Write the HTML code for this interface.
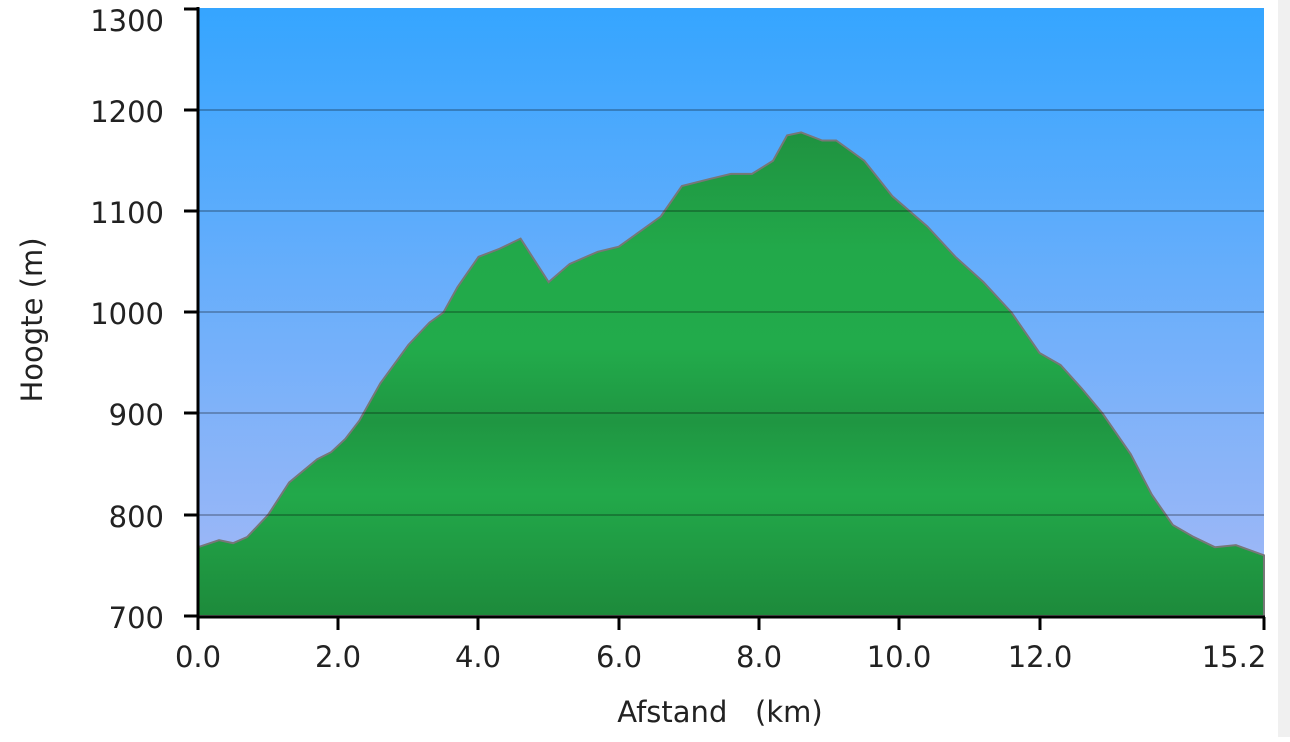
<!DOCTYPE html>
<html><head><style>body{margin:0;background:#fff;overflow:hidden}</style></head><body>
<svg width="1290" height="737" viewBox="0 0 1290 737" xmlns="http://www.w3.org/2000/svg" font-family="DejaVu Sans, Liberation Sans, sans-serif">
<defs>
<linearGradient id="sky" x1="0" y1="0" x2="0" y2="1"><stop offset="0" stop-color="#35a5ff"/><stop offset="1" stop-color="#a6b9f6"/></linearGradient>
<linearGradient id="gr" gradientUnits="userSpaceOnUse" x1="0" y1="1180" x2="0" y2="700">
<stop offset="0" stop-color="#1f9240"/><stop offset="0.25" stop-color="#22a94a"/><stop offset="0.45" stop-color="#22ab4b"/><stop offset="0.6" stop-color="#1f9642"/><stop offset="0.75" stop-color="#22a94a"/><stop offset="1" stop-color="#1d8a3b"/></linearGradient>
</defs>
<rect x="1278" y="0" width="12" height="737" fill="#f0f0f0"/>
<rect x="198" y="8" width="1066" height="608" fill="url(#sky)"/>
<g transform="translate(198,616) scale(70.13,-1.0117) translate(0,-700)">
<path fill="url(#gr)" stroke="#777" stroke-width="2" vector-effect="non-scaling-stroke" d="M0,700 L0,768 0.3,775 0.5,772 0.7,778 1.0,800 1.3,832 1.7,855 1.9,862 2.1,875 2.3,893 2.6,930 3.0,968 3.3,990 3.5,1000 3.7,1025 4.0,1055 4.3,1063 4.6,1073 5.0,1030 5.3,1048 5.7,1060 6.0,1065 6.3,1080 6.6,1095 6.9,1125 7.3,1132 7.6,1137 7.9,1137 8.2,1150 8.4,1175 8.6,1178 8.9,1170 9.1,1170 9.5,1150 9.9,1115 10.4,1085 10.8,1055 11.2,1030 11.6,1000 12.0,960 12.3,948 12.6,925 12.9,900 13.3,860 13.6,820 13.9,790 14.2,778 14.5,768 14.8,770 15.2,760 15.2,700 Z"/>
</g>
<g stroke="#000" stroke-opacity="0.25" stroke-width="2">
<line x1="198" y1="110" x2="1264" y2="110"/><line x1="198" y1="211" x2="1264" y2="211"/><line x1="198" y1="312" x2="1264" y2="312"/><line x1="198" y1="413" x2="1264" y2="413"/><line x1="198" y1="515" x2="1264" y2="515"/>
</g>
<g stroke="#000" stroke-width="3" fill="none">
<line x1="198" y1="7" x2="198" y2="617"/><line x1="197" y1="617" x2="1265" y2="617"/>
<path d="M184,9H198 M184,110H198 M184,211H198 M184,312H198 M184,413H198 M184,515H198 M184,616H198"/>
<path d="M198,617V630 M338,617V630 M478,617V630 M619,617V630 M759,617V630 M899,617V630 M1040,617V630 M1264,617V630"/>
</g>
<g font-size="29" fill="#222" text-anchor="end">
<text x="164" y="31">1300</text><text x="164" y="122">1200</text><text x="164" y="223">1100</text><text x="164" y="324">1000</text><text x="164" y="425">900</text><text x="164" y="527">800</text><text x="164" y="628">700</text>
</g>
<g font-size="29" fill="#222" text-anchor="middle">
<text x="198" y="667">0.0</text><text x="338" y="667">2.0</text><text x="478" y="667">4.0</text><text x="619" y="667">6.0</text><text x="759" y="667">8.0</text><text x="899" y="667">10.0</text><text x="1040" y="667">12.0</text><text x="1234" y="667">15.2</text>
<text x="720" y="722" xml:space="preserve">Afstand   (km)</text>
<text transform="translate(42,320) rotate(-90)">Hoogte (m)</text>
</g>
</svg>
</body></html>
